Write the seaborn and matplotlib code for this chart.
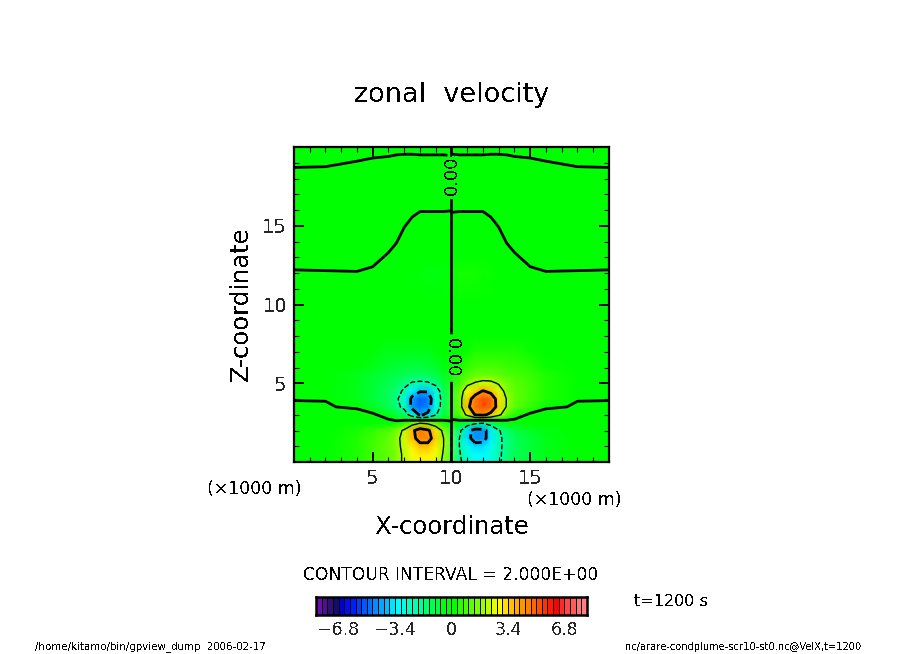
"""Zonal velocity cross-section in the style of a gpview dump."""

import matplotlib
matplotlib.use("Agg")
import matplotlib.pyplot as plt
import numpy as np
import seaborn as sns
from matplotlib.colors import LinearSegmentedColormap

x_km = [0, 2, 4, 5, 6, 6.5, 7, 7.5, 8, 8.5, 9, 9.5,
        10.5, 11, 11.5, 12, 12.5, 13, 13.5, 14, 15, 16, 18, 20]
z_km = [0, 0.5, 1, 1.5, 2, 2.5, 2.6, 2.7, 3, 3.5, 4, 4.5, 5, 5.5, 6, 7, 8, 10,
        12, 13, 14, 15, 15.85, 15.95, 17, 18, 19, 19.45, 19.55, 20]

velx = [
    [.15, .25, .5, .8, 1.2, 1.6, 2.2, 2.6, 2.8, 2.8, 2.5, 1.8, -1.8, -2.5, -2.9, -3.1, -2.8, -2.2, -1.6, -1.2, -.8, -.5, -.25, -.15],
    [.15, .25, .5, .8, 1.2, 1.6, 2.2, 2.8, 3.1, 3.1, 2.7, 1.9, -1.9, -2.7, -3.2, -3.3, -2.9, -2.2, -1.6, -1.2, -.8, -.5, -.25, -.15],
    [.15, .25, .5, .8, 1.3, 1.7, 2.3, 3.0, 3.6, 3.6, 3.0, 2.0, -2.0, -3.0, -3.6, -3.6, -3.0, -2.2, -1.7, -1.3, -.8, -.5, -.25, -.15],
    [.15, .25, .45, .75, 1.25, 1.7, 2.4, 3.6, 4.5, 4.5, 3.4, 2.0, -2.0, -3.6, -4.5, -4.4, -3.4, -2.2, -1.7, -1.25, -.75, -.45, -.25, -.15],
    [.12, .2, .4, .6, 1, 1.5, 2.2, 3.7, 4.7, 4.2, 3.2, 1.6, -1.6, -3.6, -4.5, -4.4, -3.4, -2.1, -1.5, -1.0, -.6, -.4, -.2, -.12],
    [.1, .1, .3, .2, .25, .2, .5, 1.2, 1.8, 1.6, .9, .4, -.4, -.9, -1.6, -1.8, -1.2, -.5, -.2, -.25, -.2, -.3, -.1, -.1],
    [.1, .1, .27, .18, .14, .03, .17, .4, .6, .53, .3, .13, -.13, -.3, -.55, -.6, -.4, -.15, -.05, -.14, -.18, -.27, -.1, -.1],
    [.1, .09, .24, .16, .02, -.13, -.17, -.4, -.6, -.53, -.3, -.13, .13, .3, .55, .6, .4, .15, .05, -.02, -.16, -.24, -.09, -.1],
    [.09, .08, .3, .15, -.45, -.8, -1.17, -2.8, -4.2, -3.73, -2.1, -.93, .93, 2.3, 4.1, 4.3, 3.6, 2.3, 1.2, .45, -.15, -.3, -.08, -.09],
    [.06, .05, -.1, -.6, -1.2, -1.6, -2.4, -4.4, -5.0, -4.6, -2.9, -1.3, 1.3, 3.7, 4.8, 5.2, 5.0, 3.4, 1.9, 1.1, .6, .1, -.05, -.06],
    [-.015, -.02, -.5, -.8, -1.25, -1.8, -2.7, -4.3, -5.2, -4.8, -3.0, -1.4, 1.4, 3.4, 4.6, 5.3, 5.0, 3.3, 1.95, 1.25, .8, .45, .02, .015],
    [-.03, -.1, -.5, -.8, -1.25, -1.6, -2.2, -3.4, -3.9, -3.9, -2.7, -1.3, 1.3, 2.7, 3.4, 4.1, 3.6, 2.5, 1.7, 1.25, .8, .5, .1, .03],
    [-.03, -.12, -.5, -.75, -1.1, -1.3, -1.7, -2.1, -2.2, -2.15, -1.7, -.8, .8, 1.7, 2.1, 2.3, 2.25, 1.9, 1.5, 1.1, .8, .5, .12, .03],
    [-.03, -.1, -.45, -.65, -.9, -1.05, -1.2, -1.4, -1.4, -1.3, -1.05, -.6, .6, 1.0, 1.3, 1.4, 1.35, 1.25, 1.05, .9, .7, .45, .1, .03],
    [-.03, -.1, -.35, -.5, -.7, -.8, -.9, -.95, -.9, -.8, -.7, -.4, .4, .7, .85, .9, .9, .85, .75, .7, .55, .35, .1, .03],
    [-.03, -.07, -.25, -.35, -.45, -.5, -.5, -.5, -.5, -.45, -.35, -.2, .2, .35, .45, .5, .5, .5, .45, .45, .35, .25, .07, .03],
    [-.03, -.05, -.15, -.2, -.25, -.28, -.3, -.3, -.3, -.28, -.2, -.12, .12, .2, .28, .3, .3, .3, .28, .25, .2, .15, .05, .03],
    [-.03, -.03, -.05, -.08, -.1, -.1, -.1, -.1, -.1, -.1, -.1, -.08, .08, .1, .1, .1, .1, .1, .1, .1, .08, .05, .03, .03],
    [-.02, -.015, -.01, -.04, -.13, -.19, -.29, -.35, -.38, -.39, -.39, -.39, .39, .39, .39, .38, .35, .29, .19, .13, .04, .01, .015, .02],
    [.08, .085, .09, .06, -.03, -.09, -.19, -.25, -.28, -.29, -.29, -.29, .29, .29, .29, .28, .25, .19, .09, .03, -.06, -.09, -.085, -.08],
    [.18, .185, .19, .16, .07, .01, -.09, -.155, -.185, -.19, -.19, -.19, .19, .19, .19, .185, .155, .09, -.01, -.07, -.16, -.19, -.185, -.18],
    [.28, .285, .29, .26, .17, .11, .01, -.055, -.085, -.09, -.09, -.09, .09, .09, .09, .085, .055, -.01, -.11, -.17, -.26, -.29, -.285, -.28],
    [.2, .2, .2, .2, .2, .2, .095, .03, -.005, -.005, -.005, -.005, .005, .005, .005, .005, -.03, -.095, -.2, -.2, -.2, -.2, -.2, -.2],
    [.2, .2, .2, .2, .2, .2, .105, .04, .005, .005, .005, .005, -.005, -.005, -.005, -.005, -.04, -.105, -.2, -.2, -.2, -.2, -.2, -.2],
    [.15, .15, .15, .15, .15, .15, .15, .15, .15, .15, .15, .15, -.15, -.15, -.15, -.15, -.15, -.15, -.15, -.15, -.15, -.15, -.15, -.15],
    [.07, .075, .11, .13, .14, .15, .155, .155, .15, .15, .15, .15, -.15, -.15, -.15, -.15, -.155, -.155, -.15, -.14, -.13, -.11, -.075, -.07],
    [-.03, -.025, .01, .03, .04, .05, .055, .055, .05, .05, .05, .05, -.05, -.05, -.05, -.05, -.055, -.055, -.05, -.04, -.03, -.01, .025, .03],
    [-.075, -.07, -.035, -.015, -.005, .005, .01, .01, .005, .005, .005, .005, -.005, -.005, -.005, -.005, -.01, -.01, -.005, .005, .015, .035, .07, .075],
    [-.085, -.08, -.045, -.025, -.015, -.005, -.001, -.001, -.005, -.005, -.005, -.005, .005, .005, .005, .005, .001, .001, .005, .015, .025, .045, .08, .085],
    [-.13, -.125, -.09, -.07, -.06, -.05, -.045, -.045, -.05, -.05, -.05, -.05, .05, .05, .05, .05, .045, .045, .05, .06, .07, .09, .125, .13],
]

thin_levels = [-2, 2]
thick_levels = [-4, 4]
tone_edges = [-8.16, 8.16]
tone_step = 0.34
bar_ticks = [-6.8, -3.4, 0, 3.4, 6.8]
bar_tick_labels = ["\u22126.8", "\u22123.4", "0", "3.4", "6.8"]
tick_km = [5, 10, 15]

tone_values = [-8.16, -7.97, -7.04, -6.64, -5.95, -4.76, -3.9, -3.27, -2.0, -1.4, -0.7, -0.3, 0.3,
               0.6, 1.67, 2.26, 2.86, 3.6, 4.6, 5.5, 6.3, 6.9, 7.9, 8.16]
tone_colors = ["#6a0fa8", "#6a0fa8", "#101060", "#0000d0", "#0020ff", "#0080ff", "#00c0ff", "#00ffff",
               "#00ffa0", "#00ff60", "#00ff30", "#00ff00", "#00ff00", "#30ff00", "#80ff00", "#c0ff00", "#ffff00",
               "#ffc000", "#ff8000", "#ff4000", "#ff0000", "#ff4040", "#ff8080", "#ff8080"]

sns.set_style("white")
plt.rcParams["font.family"] = "DejaVu Sans"
plt.rcParams["text.antialiased"] = False
plt.rcParams["lines.antialiased"] = False

W, H = 904, 654
cmap = LinearSegmentedColormap.from_list(
    "gpview",
    [((v - tone_edges[0]) / (tone_edges[1] - tone_edges[0]), c) for v, c in zip(tone_values, tone_colors)],
)

fig = plt.figure(figsize=(W / 100, H / 100), dpi=100, facecolor="white")


def px_axes(left, top, right, bottom):
    return fig.add_axes([left / W, 1 - bottom / H, (right - left) / W, (bottom - top) / H])


def px_text(x, y, s, **kw):
    kw.setdefault("ha", "center")
    kw.setdefault("va", "center")
    fig.text(x / W, 1 - y / H, s, color="black", **kw)


ax = px_axes(294, 147, 609, 462)
field = np.array(velx)
ax.pcolormesh(x_km, z_km, field, shading="gouraud", cmap=cmap, vmin=tone_edges[0], vmax=tone_edges[1])
ax.contour(x_km, z_km, field, levels=thin_levels, colors="black", linewidths=1, linestyles=["--", "-"])
ax.contour(x_km, z_km, field, levels=thick_levels, colors="black", linewidths=2, linestyles=["--", "-"])
zero_line = ax.contour(x_km, z_km, field, levels=[0], colors="black", linewidths=2, linestyles="-")
labels = ax.clabel(zero_line, manual=[(10, 18.2), (10, 6.6)], inline=True, inline_spacing=4,
                   fmt="%.2f", fontsize=13, colors="black")
for lab in labels:
    lab.set_rotation(90 if lab.get_position()[1] > 12 else -90)

ax.set_xlim(0, 20)
ax.set_ylim(0, 20)
ax.set_axisbelow(False)
ax.set_xticks(tick_km)
ax.set_yticks(tick_km)
ax.set_xticks(range(1, 20), minor=True)
ax.set_yticks(range(1, 20), minor=True)
ax.tick_params(which="major", direction="in", length=7.5, width=1.4, top=True, right=True,
               bottom=True, left=True, labelsize=14, pad=5, color="black")
ax.tick_params(which="minor", direction="in", length=3.8, width=0.8, top=True, right=True,
               bottom=True, left=True, color="black")
for spine in ax.spines.values():
    spine.set_linewidth(1.6)
    spine.set_color("black")
    spine.set_visible(True)

px_text(452, 95, "zonal  velocity", fontsize=19.5)
px_text(241, 304, "Z-coordinate", fontsize=17.5, rotation=90)
px_text(452, 527, "X-coordinate", fontsize=17.5)
px_text(254, 489, "(\u00d71000 m)", fontsize=12.5)
px_text(574, 500, "(\u00d71000 m)", fontsize=12.5)
px_text(451, 575, "CONTOUR INTERVAL = 2.000E+00", fontsize=12.3)
px_text(671, 601, "t=1200 s", fontsize=11.5)
px_text(150, 647, "/home/kitamo/bin/gpview_dump  2006-02-17", fontsize=7.4)
px_text(743, 647, "nc/arare-condplume-scr10-st0.nc@VelX,t=1200", fontsize=7.1)

# colour bar, one cell per tone level
cax = px_axes(316, 597, 587, 615)
n_tones = int(round((tone_edges[1] - tone_edges[0]) / tone_step))
tone_mid = [[tone_edges[0] + (i + 0.5) * tone_step for i in range(n_tones)]]
sns.heatmap(tone_mid, ax=cax, cmap=cmap, vmin=tone_edges[0], vmax=tone_edges[1], cbar=False,
            linewidths=0.6, linecolor="black", yticklabels=False)
cax.set_xticks([(v - tone_edges[0]) / tone_step for v in bar_ticks])
cax.set_xticklabels(bar_tick_labels, fontsize=12.5, rotation=0)
cax.tick_params(axis="x", length=0, pad=4)
for spine in cax.spines.values():
    spine.set_visible(True)
    spine.set_linewidth(1.8)
    spine.set_color("black")

fig.savefig("out.png", dpi=100)
